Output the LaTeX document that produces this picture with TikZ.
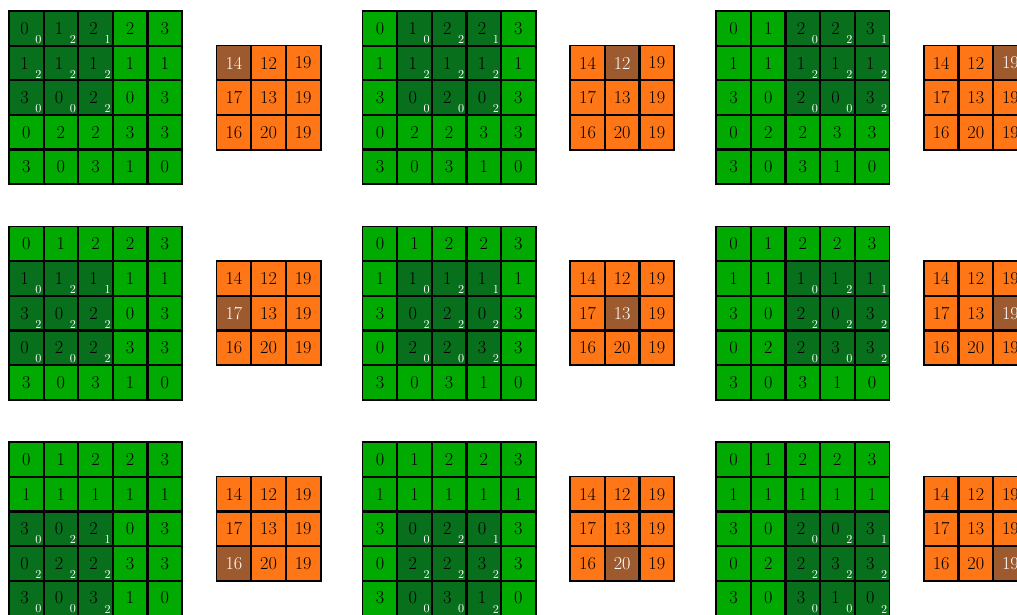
\documentclass[tikz,border=0pt]{standalone}
\usepackage{tikz}

\definecolor{inlight}{RGB}{0,170,0}
\definecolor{indark}{RGB}{8,112,28}
\definecolor{outorange}{RGB}{255,118,22}
\definecolor{outbrown}{RGB}{156,90,46}

% input, kernel and output values, row by row
\def\invals{{0,1,2,2,3, 1,1,1,1,1, 3,0,2,0,3, 0,2,2,3,3, 3,0,3,1,0}}
\def\kvals{{0,2,1, 2,2,2, 0,0,2}}
\def\outvals{{14,12,19, 17,13,19, 16,20,19}}

\begin{document}
\begin{tikzpicture}[x=1cm,y=1cm,
    cell/.style={minimum size=1cm, inner sep=0pt, font=\fontsize{15}{18}\selectfont},
    cellline/.style={draw=black, line width=1.4pt},
    wsub/.style={font=\fontsize{10}{12}\selectfont, text=white, anchor=south east, inner sep=1.8pt}]
  \useasboundingbox (0,0) rectangle (29.39,-17.75);
  \clip (0,0) rectangle (29.39,-17.75);
  \foreach \pr in {0,1,2}{
    \foreach \pc in {0,1,2}{
      \pgfmathsetmacro\ox{0.26+10.22*\pc}
      \pgfmathsetmacro\oy{-0.32-6.23*\pr}
      % input grid
      \foreach \r in {0,...,4}{
        \foreach \c in {0,...,4}{
          \pgfmathtruncatemacro\v{\invals[5*\r+\c]}
          \pgfmathtruncatemacro\inwin{(\r>=\pr)&&(\r<=\pr+2)&&(\c>=\pc)&&(\c<=\pc+2)}
          \ifnum\inwin=1
            \pgfmathtruncatemacro\k{\kvals[3*(\r-\pr)+(\c-\pc)]}
            \node[cell, fill=indark, label={[wsub]south east:\k}] (in-\pr\pc-\r\c)
              at (\ox+\c+0.5,\oy-\r-0.5) {\v\kern0.2em};
          \else
            \node[cell, fill=inlight] (in-\pr\pc-\r\c) at (\ox+\c+0.5,\oy-\r-0.5) {\v};
          \fi
        }
      }
      % output grid
      \foreach \r in {0,1,2}{
        \foreach \c in {0,1,2}{
          \pgfmathtruncatemacro\v{\outvals[3*\r+\c]}
          \pgfmathtruncatemacro\hit{(\r==\pr)&&(\c==\pc)}
          \ifnum\hit=1
            \node[cell, fill=outbrown, text=white] (out-\pr\pc-\r\c)
              at (\ox+6.5+\c,\oy-1.5-\r) {\v};
          \else
            \node[cell, fill=outorange] (out-\pr\pc-\r\c) at (\ox+6.5+\c,\oy-1.5-\r) {\v};
          \fi
        }
      }
      % cell borders on top of the fills
      \foreach \r in {0,...,4}{
        \foreach \c in {0,...,4}{
          \draw[cellline] (in-\pr\pc-\r\c.north west) rectangle (in-\pr\pc-\r\c.south east);
        }
      }
      \foreach \r in {0,1,2}{
        \foreach \c in {0,1,2}{
          \draw[cellline] (out-\pr\pc-\r\c.north west) rectangle (out-\pr\pc-\r\c.south east);
        }
      }
    }
  }
\end{tikzpicture}
\end{document}
